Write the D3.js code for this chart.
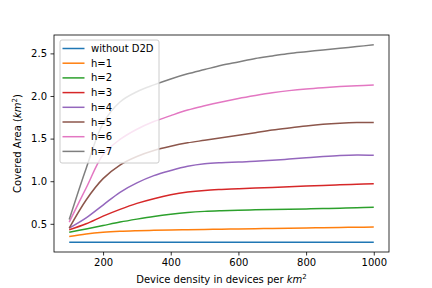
<!DOCTYPE html>
<html>
<head>
<meta charset="utf-8">
<script src="https://cdn.jsdelivr.net/npm/d3@7"></script>
<style>
  body { margin: 0; background: #fff; }
  svg { font-family: "DejaVu Sans", sans-serif; }
</style>
</head>
<body>
<div id="chart"></div>
<script>
// device densities (x) and covered areas per series
const density = [100, 150, 200, 250, 300, 350, 400, 450, 500, 550, 600, 650, 700, 750, 800, 850, 900, 950, 1000];
const noD2D = [0.285, 0.285, 0.285, 0.285, 0.285, 0.285, 0.285, 0.285, 0.285, 0.285, 0.285, 0.285, 0.285, 0.285, 0.285, 0.285, 0.285, 0.285, 0.285];
const h1 = [0.35, 0.38, 0.40, 0.412, 0.419, 0.424, 0.428, 0.431, 0.434, 0.437, 0.44, 0.443, 0.446, 0.449, 0.452, 0.455, 0.457, 0.46, 0.462];
const h2 = [0.40, 0.44, 0.48, 0.52, 0.555, 0.587, 0.613, 0.633, 0.646, 0.654, 0.66, 0.665, 0.669, 0.672, 0.675, 0.679, 0.684, 0.689, 0.695];
const h3 = [0.43, 0.50, 0.59, 0.67, 0.74, 0.795, 0.84, 0.872, 0.892, 0.903, 0.911, 0.919, 0.927, 0.935, 0.943, 0.951, 0.958, 0.964, 0.97];
const h4 = [0.45, 0.57, 0.72, 0.87, 0.98, 1.065, 1.125, 1.175, 1.205, 1.218, 1.225, 1.233, 1.245, 1.26, 1.275, 1.29, 1.302, 1.308, 1.305];
const h5 = [0.45, 0.78, 1.03, 1.19, 1.29, 1.36, 1.41, 1.45, 1.48, 1.51, 1.54, 1.57, 1.60, 1.625, 1.648, 1.667, 1.68, 1.688, 1.69];
const h6 = [0.52, 0.92, 1.31, 1.49, 1.61, 1.70, 1.77, 1.835, 1.885, 1.93, 1.97, 2.005, 2.037, 2.063, 2.083, 2.098, 2.11, 2.12, 2.13];
const h7 = [0.55, 1.15, 1.68, 1.93, 2.05, 2.13, 2.20, 2.26, 2.31, 2.36, 2.40, 2.44, 2.47, 2.50, 2.52, 2.54, 2.56, 2.58, 2.60];

const labels = ["without D2D", "h=1", "h=2", "h=3", "h=4", "h=5", "h=6", "h=7"];
const seriesValues = [noD2D, h1, h2, h3, h4, h5, h6, h7];
const xTicks = [200, 400, 600, 800, 1000];
const yTicks = [0.5, 1.0, 1.5, 2.0, 2.5];

const colors = d3.schemeCategory10;

const W = 432, H = 288;
const margin = { left: 54, right: 43, top: 35, bottom: 36 };
const width = W - margin.left - margin.right;
const height = H - margin.top - margin.bottom;

const svg = d3.select("#chart").append("svg")
  .attr("width", W)
  .attr("height", H);

const g = svg.append("g")
  .attr("transform", `translate(${margin.left},${margin.top})`);

// matplotlib-like 5% padding
const xExt = d3.extent(density);
const xPad = (xExt[1] - xExt[0]) * 0.05;
const allY = seriesValues.flat();
const yExt = d3.extent(allY);
const yPad = (yExt[1] - yExt[0]) * 0.05;

const x = d3.scaleLinear()
  .domain([xExt[0] - xPad, xExt[1] + xPad])
  .range([0, width]);

const y = d3.scaleLinear()
  .domain([yExt[0] - yPad, yExt[1] + yPad])
  .range([height, 0]);

const line = d3.line()
  .x(d => x(d[0]))
  .y(d => y(d[1]))
  .curve(d3.curveCatmullRom.alpha(0.5));

// lines
seriesValues.forEach((vals, i) => {
  g.append("path")
    .datum(density.map((dx, j) => [dx, vals[j]]))
    .attr("fill", "none")
    .attr("stroke", colors[i])
    .attr("stroke-width", 1.5)
    .attr("d", line);
});

// axes
const xAxis = g.append("g")
  .attr("transform", `translate(0,${height})`)
  .call(d3.axisBottom(x).tickValues(xTicks).tickSize(3.5).tickPadding(3.5).tickFormat(d3.format("d")));
const yAxis = g.append("g")
  .call(d3.axisLeft(y).tickValues(yTicks).tickSize(3.5).tickPadding(3.5).tickFormat(d3.format(".1f")));

[xAxis, yAxis].forEach(a => {
  a.select(".domain").remove();
  a.selectAll("line").attr("stroke", "#000").attr("stroke-width", 0.8);
  a.selectAll("text").attr("font-size", 10).attr("fill", "#000")
    .attr("font-family", "DejaVu Sans, sans-serif");
});

// frame
g.append("rect")
  .attr("width", width)
  .attr("height", height)
  .attr("fill", "none")
  .attr("stroke", "#000")
  .attr("stroke-width", 0.8);

// axis labels
const xl = svg.append("text")
  .attr("x", margin.left + width / 2)
  .attr("y", 283)
  .attr("text-anchor", "middle")
  .attr("font-size", 10);
xl.append("tspan").text("Device density in devices per ");
xl.append("tspan").attr("font-style", "italic").text("km");
xl.append("tspan").attr("font-size", 7).attr("dy", -4).text("2");

const yl = svg.append("text")
  .attr("transform", `translate(21,${margin.top + height / 2}) rotate(-90)`)
  .attr("text-anchor", "middle")
  .attr("font-size", 10);
yl.append("tspan").text("Covered Area (");
yl.append("tspan").attr("font-style", "italic").text("km");
yl.append("tspan").attr("font-size", 7).attr("dy", -4).text("2");
yl.append("tspan").attr("dy", 4).text(")");

// legend
const legend = g.append("g")
  .attr("transform", "translate(6,5)");

legend.append("rect")
  .attr("width", 99)
  .attr("height", 123)
  .attr("rx", 2)
  .attr("fill", "#fff")
  .attr("fill-opacity", 0.8)
  .attr("stroke", "#ccc")
  .attr("stroke-width", 1);

const items = legend.selectAll(".item")
  .data(labels)
  .enter()
  .append("g")
  .attr("class", "item")
  .attr("transform", (d, i) => `translate(0,${8.5 + i * 14.7})`);

items.append("line")
  .attr("x1", 2.5).attr("x2", 24.5)
  .attr("stroke", (d, i) => colors[i])
  .attr("stroke-width", 1.5);

items.append("text")
  .attr("x", 31)
  .attr("dy", "0.35em")
  .attr("font-size", 10)
  .text(d => d);
</script>
</body>
</html>
